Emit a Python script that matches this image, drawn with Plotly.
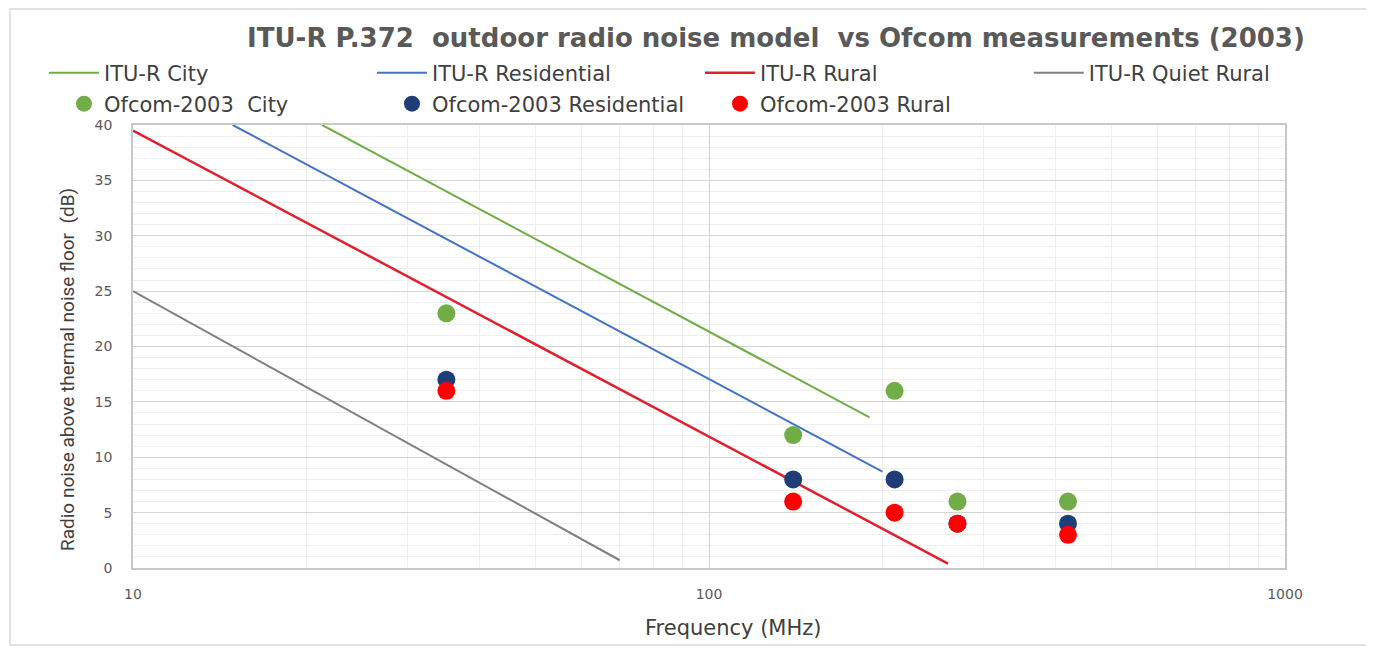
import plotly.graph_objects as go

# ITU-R P.372 model lines (frequency MHz, dB above kTB)
city_line_f = [21.3, 190]
city_line_db = [40, 13.6]
res_line_f = [14.9, 200]
res_line_db = [40, 8.7]
rural_line_f = [10, 260]
rural_line_db = [39.5, 0.4]
quiet_line_f = [10, 70]
quiet_line_db = [25, 0.7]

# Ofcom 2003 measurements
ofcom_city_f = [35, 140, 210, 270, 420]
ofcom_city_db = [23, 12, 16, 6, 6]
ofcom_res_f = [35, 140, 210, 270, 420]
ofcom_res_db = [17, 8, 8, 4, 4]
ofcom_rural_f = [35, 140, 210, 270, 420]
ofcom_rural_db = [16, 6, 5, 4, 3]

x_major = [10, 100, 1000]
x_minor = [20, 30, 40, 50, 60, 70, 80, 90, 200, 300, 400, 500, 600, 700, 800, 900]

FONT = 'DejaVu Sans, Open Sans, sans-serif'

fig = go.Figure()

fig.add_trace(go.Scatter(x=city_line_f, y=city_line_db, mode='lines', name='ITU-R City',
                         line=dict(color='#70ad47', width=2), legend='legend'))
fig.add_trace(go.Scatter(x=res_line_f, y=res_line_db, mode='lines', name='ITU-R Residential',
                         line=dict(color='#4472c4', width=2), legend='legend'))
fig.add_trace(go.Scatter(x=rural_line_f, y=rural_line_db, mode='lines', name='ITU-R Rural',
                         line=dict(color='#e0202e', width=2.5), legend='legend'))
fig.add_trace(go.Scatter(x=quiet_line_f, y=quiet_line_db, mode='lines', name='ITU-R Quiet Rural',
                         line=dict(color='#808080', width=2), legend='legend3'))

fig.add_trace(go.Scatter(x=ofcom_city_f, y=ofcom_city_db, mode='markers', name='Ofcom-2003\u00a0 City',
                         marker=dict(color='#70ad47', size=18), legend='legend2'))
fig.add_trace(go.Scatter(x=ofcom_res_f, y=ofcom_res_db, mode='markers', name='Ofcom-2003 Residential',
                         marker=dict(color='#203d77', size=18), legend='legend2'))
fig.add_trace(go.Scatter(x=ofcom_rural_f, y=ofcom_rural_db, mode='markers', name='Ofcom-2003 Rural',
                         marker=dict(color='#ff0000', size=18), legend='legend2'))

legend_font = dict(family=FONT, size=21, color='#404040')
leg_common = dict(orientation='h', entrywidthmode='pixels', font=legend_font,
                  bgcolor='rgba(0,0,0,0)', xanchor='left', yanchor='middle', tracegroupgap=0)

# page body adds an 8px offset, so the figure is 8px smaller on each axis
fig.update_layout(
    width=1366, height=639,
    margin=dict(l=125, r=89, t=117, b=79, autoexpand=False),
    paper_bgcolor='white', plot_bgcolor='white',
    title=dict(text='ITU-R P.372\u00a0 outdoor radio noise model\u00a0 vs Ofcom measurements (2003)',
               x=0.5622, xanchor='center', y=1 - 30 / 639, yanchor='middle',
               font=dict(family=FONT, size=26, color='#595959', weight='bold')),
    legend=dict(x=-0.0773, y=1.1174, itemwidth=50, entrywidth=263, **leg_common),
    legend2=dict(x=-0.0599, y=1.0474, entrywidth=283, **leg_common),
    legend3=dict(x=0.7776, y=1.1174, itemwidth=50, entrywidth=263, **leg_common),
    xaxis=dict(type='log', range=[1, 3], tickvals=x_major, ticktext=['10', '100', '1000'],
               showgrid=True, gridcolor='#d4d4d4', gridwidth=1,
               minor=dict(tickvals=x_minor, showgrid=True, gridcolor='#eeeeee', ticks=''),
               showline=True, linecolor='#c8c8c8', linewidth=1.5, mirror=True,
               ticks='', ticklabelstandoff=12,
               tickfont=dict(family=FONT, size=14, color='#595959'),
               zeroline=False),
    yaxis=dict(range=[0, 40], tickvals=[0, 5, 10, 15, 20, 25, 30, 35, 40],
               showgrid=True, gridcolor='#d4d4d4', gridwidth=1,
               minor=dict(dtick=1, showgrid=True, gridcolor='#eeeeee', ticks=''),
               showline=True, linecolor='#c8c8c8', linewidth=1.5, mirror=True,
               ticks='', ticklabelstandoff=16,
               tickfont=dict(family=FONT, size=14, color='#595959'),
               zeroline=False),
    annotations=[
        dict(text='Frequency (MHz)', xref='paper', yref='paper', x=0.521, y=-0.1354,
             xanchor='center', yanchor='middle', showarrow=False,
             font=dict(family=FONT, size=21, color='#404040')),
        dict(text='Radio noise above thermal noise floor\u00a0 (dB)', xref='paper', yref='paper',
             x=-0.0564, y=0.447, xanchor='center', yanchor='middle', textangle=-90, showarrow=False,
             font=dict(family='Liberation Sans Narrow, Roboto, sans-serif', size=19, color='#404040')),
    ],
    shapes=[dict(type='rect', xref='paper', yref='paper',
                 x0=-0.1068, x1=1.09, y0=-0.1738, y1=1.2619,
                 line=dict(color='#d9d9d9', width=1.5), fillcolor='rgba(0,0,0,0)', layer='below')],
    showlegend=True,
)

fig.write_html("out.html")
